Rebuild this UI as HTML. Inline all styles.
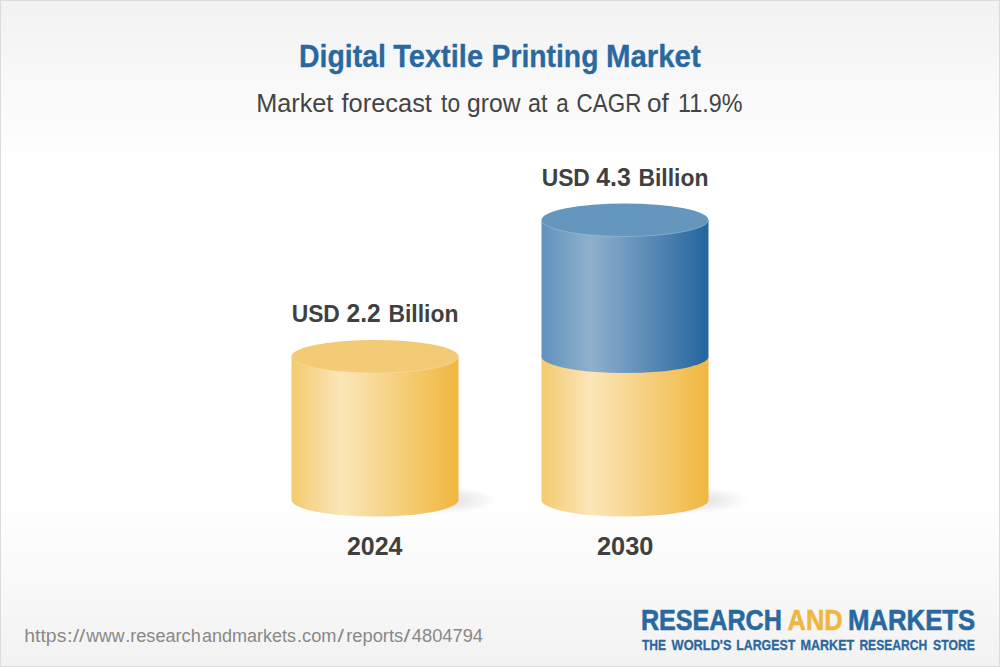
<!DOCTYPE html>
<html>
<head>
<meta charset="utf-8">
<title>Digital Textile Printing Market</title>
<style>
html,body{margin:0;padding:0;}
body{width:1000px;height:667px;overflow:hidden;background:#fff;font-family:"Liberation Sans",sans-serif;}
svg{display:block;}
text{font-family:"Liberation Sans",sans-serif;}
</style>
</head>
<body>
<svg width="1000" height="667" viewBox="0 0 1000 667">
  <defs>
    <linearGradient id="bg" x1="0" y1="0" x2="0" y2="1">
      <stop offset="0" stop-color="#f2f2f2"/>
      <stop offset="0.25" stop-color="#ffffff"/>
      <stop offset="0.75" stop-color="#ffffff"/>
      <stop offset="1" stop-color="#f2f2f2"/>
    </linearGradient>
    <linearGradient id="ybody" x1="0" y1="0" x2="1" y2="0">
      <stop offset="0" stop-color="#f4ca6e"/>
      <stop offset="0.295" stop-color="#fbe6b9"/>
      <stop offset="1" stop-color="#f0b73f"/>
    </linearGradient>
    <linearGradient id="bbody" x1="0" y1="0" x2="1" y2="0">
      <stop offset="0" stop-color="#6092bd"/>
      <stop offset="0.295" stop-color="#8fb0cc"/>
      <stop offset="1" stop-color="#24659f"/>
    </linearGradient>
    <radialGradient id="shadow" cx="0.5" cy="0.5" r="0.5">
      <stop offset="0" stop-color="#000" stop-opacity="0.15"/>
      <stop offset="1" stop-color="#000" stop-opacity="0"/>
    </radialGradient>
  </defs>

  <rect x="0" y="0" width="1000" height="667" fill="url(#bg)"/>
  <rect x="0.5" y="0.5" width="999" height="666" fill="none" stroke="#dcdcdc" stroke-width="1"/>

  <!-- shadows -->
  <ellipse cx="438" cy="500" rx="60" ry="14" fill="url(#shadow)"/>
  <ellipse cx="688" cy="500" rx="60" ry="14" fill="url(#shadow)"/>

  <!-- left cylinder -->
  <path d="M291.5 356.5 L291.5 500 A83.5 16.5 0 0 0 458.5 500 L458.5 356.5 Z" fill="url(#ybody)"/>
  <ellipse cx="375" cy="356.5" rx="83.5" ry="16.5" fill="#f3cb77"/>
  <path d="M291.5 356.5 A83.5 16.5 0 0 0 458.5 356.5" fill="none" stroke="#fbe8c0" stroke-opacity="0.5" stroke-width="0.7"/>

  <!-- right cylinder -->
  <path d="M541.5 356.5 L541.5 500 A83.5 16.5 0 0 0 708.5 500 L708.5 356.5 Z" fill="url(#ybody)"/>
  <path d="M541.5 220 L541.5 356.5 A83.5 16.5 0 0 0 708.5 356.5 L708.5 220 Z" fill="url(#bbody)"/>
  <ellipse cx="625" cy="220" rx="83.5" ry="16.5" fill="#6596be"/>
  <path d="M541.5 220 A83.5 16.5 0 0 0 708.5 220" fill="none" stroke="#c4d6e6" stroke-opacity="0.5" stroke-width="0.7"/>

  <!-- text -->
  <text><tspan x="299.05" y="66.7" font-size="30.8" font-weight="bold" fill="#2a68a0" stroke="#2a68a0" stroke-width="0.3" stroke-linejoin="round" textLength="86.88" lengthAdjust="spacingAndGlyphs">Digital</tspan> <tspan x="393.3" y="66.7" font-size="30.8" font-weight="bold" fill="#2a68a0" stroke="#2a68a0" stroke-width="0.3" stroke-linejoin="round" textLength="89.72" lengthAdjust="spacingAndGlyphs">Textile</tspan> <tspan x="491.56" y="66.7" font-size="30.8" font-weight="bold" fill="#2a68a0" stroke="#2a68a0" stroke-width="0.3" stroke-linejoin="round" textLength="106.9" lengthAdjust="spacingAndGlyphs">Printing</tspan> <tspan x="605.89" y="66.7" font-size="30.8" font-weight="bold" fill="#2a68a0" stroke="#2a68a0" stroke-width="0.3" stroke-linejoin="round" textLength="94.86" lengthAdjust="spacingAndGlyphs">Market</tspan></text>
  <text><tspan x="256.28" y="111.5" font-size="25" fill="#444444" textLength="77.06" lengthAdjust="spacingAndGlyphs">Market</tspan> <tspan x="341.5" y="111.5" font-size="25" fill="#444444" textLength="90.44" lengthAdjust="spacingAndGlyphs">forecast</tspan> <tspan x="441.1" y="111.5" font-size="25" fill="#444444" textLength="19.02" lengthAdjust="spacingAndGlyphs">to</tspan> <tspan x="467.11" y="111.5" font-size="25" fill="#444444" textLength="53.45" lengthAdjust="spacingAndGlyphs">grow</tspan> <tspan x="528.07" y="111.5" font-size="25" fill="#444444" textLength="19.48" lengthAdjust="spacingAndGlyphs">at</tspan> <tspan x="556.31" y="111.5" font-size="25" fill="#444444" textLength="12.41" lengthAdjust="spacingAndGlyphs">a</tspan> <tspan x="576.6" y="111.5" font-size="25" fill="#444444" textLength="64.74" lengthAdjust="spacingAndGlyphs">CAGR</tspan> <tspan x="646.95" y="111.5" font-size="25" fill="#444444" textLength="21.79" lengthAdjust="spacingAndGlyphs">of</tspan> <tspan x="678.09" y="111.5" font-size="25.6" fill="#444444" textLength="64.5" lengthAdjust="spacingAndGlyphs">11.9%</tspan></text>
  <text><tspan x="291.68" y="322.0" font-size="24.8" font-weight="bold" fill="#404040" textLength="48.15" lengthAdjust="spacingAndGlyphs">USD</tspan> <tspan x="346.6" y="322.0" font-size="25.8" font-weight="bold" fill="#404040" textLength="34.13" lengthAdjust="spacingAndGlyphs">2.2</tspan> <tspan x="388.48" y="322.0" font-size="24.8" font-weight="bold" fill="#404040" textLength="69.98" lengthAdjust="spacingAndGlyphs">Billion</tspan></text>
  <text><tspan x="541.68" y="186.0" font-size="24.8" font-weight="bold" fill="#404040" textLength="48.15" lengthAdjust="spacingAndGlyphs">USD</tspan> <tspan x="596.2" y="186.0" font-size="25.8" font-weight="bold" fill="#404040" textLength="34.53" lengthAdjust="spacingAndGlyphs">4.3</tspan> <tspan x="638.48" y="186.0" font-size="24.8" font-weight="bold" fill="#404040" textLength="69.98" lengthAdjust="spacingAndGlyphs">Billion</tspan></text>
  <text><tspan x="347.0" y="554.7" font-size="26" font-weight="bold" fill="#404040" textLength="55.48" lengthAdjust="spacingAndGlyphs">2024</tspan> <tspan x="597.0" y="554.7" font-size="26" font-weight="bold" fill="#404040" textLength="56.35" lengthAdjust="spacingAndGlyphs">2030</tspan></text>
  <text><tspan x="24.34" y="641.8" font-size="18.3" fill="#888888" textLength="42.01" lengthAdjust="spacingAndGlyphs">https</tspan><tspan x="66.79" y="641.8" font-size="18.3" fill="#888888" textLength="18.5" lengthAdjust="spacingAndGlyphs">://</tspan><tspan x="86.36" y="641.8" font-size="18.3" fill="#888888" textLength="38.07" lengthAdjust="spacingAndGlyphs">www</tspan><tspan x="125.21" y="641.8" font-size="18.3" fill="#888888" textLength="75.55" lengthAdjust="spacingAndGlyphs">.research</tspan><tspan x="202.0" y="641.8" font-size="18.3" fill="#888888" textLength="93.94" lengthAdjust="spacingAndGlyphs">andmarkets</tspan><tspan x="297.0" y="641.8" font-size="18.3" fill="#888888" textLength="39.42" lengthAdjust="spacingAndGlyphs">.com</tspan><tspan x="337.6" y="641.8" font-size="18.3" fill="#888888" textLength="6.43" lengthAdjust="spacingAndGlyphs">/</tspan><tspan x="346.2" y="641.8" font-size="18.3" fill="#888888" textLength="56.94" lengthAdjust="spacingAndGlyphs">reports</tspan><tspan x="403.6" y="641.8" font-size="18.3" fill="#888888" textLength="6.77" lengthAdjust="spacingAndGlyphs">/</tspan><tspan x="411.8" y="641.8" font-size="18.3" fill="#888888" textLength="71.17" lengthAdjust="spacingAndGlyphs">4804794</tspan></text>
  <text><tspan x="640.93" y="629.7" font-size="29" font-weight="bold" fill="#2a68a0" stroke="#2a68a0" stroke-width="0.6" stroke-linejoin="round" textLength="140.95" lengthAdjust="spacingAndGlyphs">RESEARCH</tspan> <tspan x="787.5" y="629.7" font-size="29" font-weight="bold" fill="#f0b73f" stroke="#f0b73f" stroke-width="0.6" stroke-linejoin="round" textLength="55.23" lengthAdjust="spacingAndGlyphs">AND</tspan> <tspan x="847.91" y="629.7" font-size="29" font-weight="bold" fill="#2a68a0" stroke="#2a68a0" stroke-width="0.6" stroke-linejoin="round" textLength="127.39" lengthAdjust="spacingAndGlyphs">MARKETS</tspan></text>
  <text><tspan x="641.9" y="649.5" font-size="14.4" font-weight="bold" fill="#2a68a0" stroke="#2a68a0" stroke-width="0.3" stroke-linejoin="round" textLength="24.16" lengthAdjust="spacingAndGlyphs">THE</tspan> <tspan x="671.6" y="649.5" font-size="14.4" font-weight="bold" fill="#2a68a0" stroke="#2a68a0" stroke-width="0.3" stroke-linejoin="round" textLength="59.84" lengthAdjust="spacingAndGlyphs">WORLD'S</tspan> <tspan x="736.2" y="649.5" font-size="14.4" font-weight="bold" fill="#2a68a0" stroke="#2a68a0" stroke-width="0.3" stroke-linejoin="round" textLength="59.02" lengthAdjust="spacingAndGlyphs">LARGEST</tspan> <tspan x="800.4" y="649.5" font-size="14.4" font-weight="bold" fill="#2a68a0" stroke="#2a68a0" stroke-width="0.3" stroke-linejoin="round" textLength="53.92" lengthAdjust="spacingAndGlyphs">MARKET</tspan> <tspan x="859.4" y="649.5" font-size="14.4" font-weight="bold" fill="#2a68a0" stroke="#2a68a0" stroke-width="0.3" stroke-linejoin="round" textLength="67.73" lengthAdjust="spacingAndGlyphs">RESEARCH</tspan> <tspan x="933.0" y="649.5" font-size="14.4" font-weight="bold" fill="#2a68a0" stroke="#2a68a0" stroke-width="0.3" stroke-linejoin="round" textLength="41.86" lengthAdjust="spacingAndGlyphs">STORE</tspan></text>
</svg>
</body>
</html>
